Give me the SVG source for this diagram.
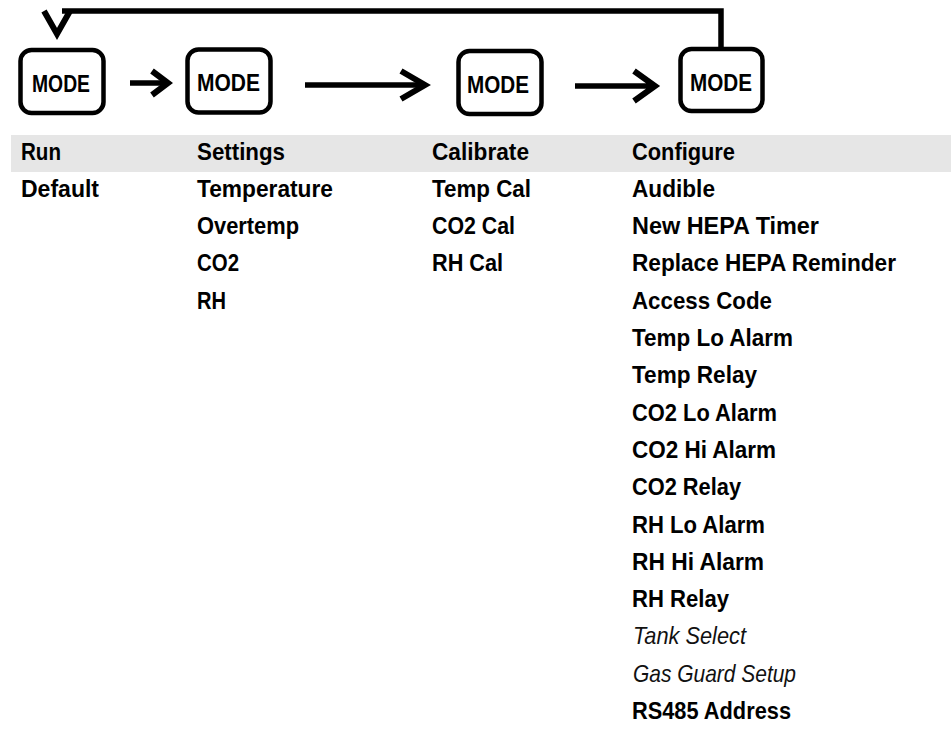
<svg xmlns="http://www.w3.org/2000/svg" width="951" height="729" viewBox="0 0 951 729">
  <style>
    .box { fill: #ffffff; stroke: #000000; stroke-width: 4.5; }
    .mode { font-family: "Liberation Sans", Arial, sans-serif; font-weight: bold; font-size: 24px; fill: #000000; }
    .line { fill: none; stroke: #000000; stroke-width: 5.5; stroke-linecap: butt; }
    .head { fill: none; stroke: #000000; stroke-width: 6; stroke-linecap: butt; stroke-linejoin: miter; }
    .t { font-family: "Liberation Sans", Arial, sans-serif; font-weight: bold; font-size: 24px; fill: #000000; }
    .i { font-family: "Liberation Sans", Arial, sans-serif; font-style: italic; font-weight: normal; font-size: 24px; fill: #111111; }
    .band { fill: #e6e6e6; }
  </style>

  <rect class="band" x="11" y="135" width="940" height="37"/>

  <g id="connectors">
    <!-- feedback loop from Configure back to Run -->
    <polyline class="line" points="721,47 721,11 62,11" stroke-width="6"/>
    <polyline class="head" points="44,11 57,34 70,11"/>
    <!-- Run -> Settings -->
    <line class="line" x1="130" y1="83" x2="166" y2="83"/>
    <polyline class="head" points="152,71 168,83 152,95"/>
    <!-- Settings -> Calibrate -->
    <line class="line" x1="305" y1="85" x2="424" y2="85"/>
    <polyline class="head" points="401,71 425,85 401,99"/>
    <!-- Calibrate -> Configure -->
    <line class="line" x1="575" y1="86" x2="650" y2="86"/>
    <polyline class="head" points="634,71 655,86 634,101"/>
    <polygon points="646,79 658,86 646,93" fill="#000000"/>
  </g>

  <g id="mode-run">
    <rect class="box" x="20.5" y="50" width="83" height="63" rx="11"/>
    <text class="mode" x="32" y="92" textLength="58" lengthAdjust="spacingAndGlyphs">MODE</text>
  </g>
  <g id="mode-settings">
    <rect class="box" x="187.5" y="49.5" width="83" height="63" rx="11"/>
    <text class="mode" x="197" y="91" textLength="63" lengthAdjust="spacingAndGlyphs">MODE</text>
  </g>
  <g id="mode-calibrate">
    <rect class="box" x="458.5" y="51" width="83" height="63" rx="11"/>
    <text class="mode" x="467" y="92.5" textLength="62" lengthAdjust="spacingAndGlyphs">MODE</text>
  </g>
  <g id="mode-configure">
    <rect class="box" x="680.5" y="49" width="82" height="62" rx="11"/>
    <text class="mode" x="690" y="91" textLength="62" lengthAdjust="spacingAndGlyphs">MODE</text>
  </g>

  <g id="col-run">
    <text class="t" x="21" y="159.5" textLength="40" lengthAdjust="spacingAndGlyphs">Run</text>
    <text class="t" x="21" y="196.8" textLength="78" lengthAdjust="spacingAndGlyphs">Default</text>
  </g>

  <g id="col-settings">
    <text class="t" x="197" y="159.5" textLength="88" lengthAdjust="spacingAndGlyphs">Settings</text>
    <text class="t" x="197" y="196.8" textLength="136" lengthAdjust="spacingAndGlyphs">Temperature</text>
    <text class="t" x="197" y="234.1" textLength="102" lengthAdjust="spacingAndGlyphs">Overtemp</text>
    <text class="t" x="197" y="271.4" textLength="42" lengthAdjust="spacingAndGlyphs">CO2</text>
    <text class="t" x="197" y="308.7" textLength="29" lengthAdjust="spacingAndGlyphs">RH</text>
  </g>

  <g id="col-calibrate">
    <text class="t" x="432" y="159.5" textLength="97" lengthAdjust="spacingAndGlyphs">Calibrate</text>
    <text class="t" x="432" y="196.8" textLength="99" lengthAdjust="spacingAndGlyphs">Temp Cal</text>
    <text class="t" x="432" y="234.1" textLength="83" lengthAdjust="spacingAndGlyphs">CO2 Cal</text>
    <text class="t" x="432" y="271.4" textLength="71" lengthAdjust="spacingAndGlyphs">RH Cal</text>
  </g>

  <g id="col-configure">
    <text class="t" x="632" y="159.5" textLength="103" lengthAdjust="spacingAndGlyphs">Configure</text>
    <text class="t" x="632" y="196.8" textLength="83" lengthAdjust="spacingAndGlyphs">Audible</text>
    <text class="t" x="632" y="234.1" textLength="187" lengthAdjust="spacingAndGlyphs">New HEPA Timer</text>
    <text class="t" x="632" y="271.4" textLength="264" lengthAdjust="spacingAndGlyphs">Replace HEPA Reminder</text>
    <text class="t" x="632" y="308.7" textLength="140" lengthAdjust="spacingAndGlyphs">Access Code</text>
    <text class="t" x="632" y="346" textLength="161" lengthAdjust="spacingAndGlyphs">Temp Lo Alarm</text>
    <text class="t" x="632" y="383.3" textLength="125" lengthAdjust="spacingAndGlyphs">Temp Relay</text>
    <text class="t" x="632" y="420.6" textLength="145" lengthAdjust="spacingAndGlyphs">CO2 Lo Alarm</text>
    <text class="t" x="632" y="457.9" textLength="144" lengthAdjust="spacingAndGlyphs">CO2 Hi Alarm</text>
    <text class="t" x="632" y="495.2" textLength="109" lengthAdjust="spacingAndGlyphs">CO2 Relay</text>
    <text class="t" x="632" y="532.5" textLength="133" lengthAdjust="spacingAndGlyphs">RH Lo Alarm</text>
    <text class="t" x="632" y="569.8" textLength="132" lengthAdjust="spacingAndGlyphs">RH Hi Alarm</text>
    <text class="t" x="632" y="607.1" textLength="97" lengthAdjust="spacingAndGlyphs">RH Relay</text>
    <text class="i" x="633" y="644.4" textLength="113" lengthAdjust="spacingAndGlyphs">Tank Select</text>
    <text class="i" x="633" y="681.7" textLength="163" lengthAdjust="spacingAndGlyphs">Gas Guard Setup</text>
    <text class="t" x="632" y="719" textLength="159" lengthAdjust="spacingAndGlyphs">RS485 Address</text>
  </g>
</svg>
